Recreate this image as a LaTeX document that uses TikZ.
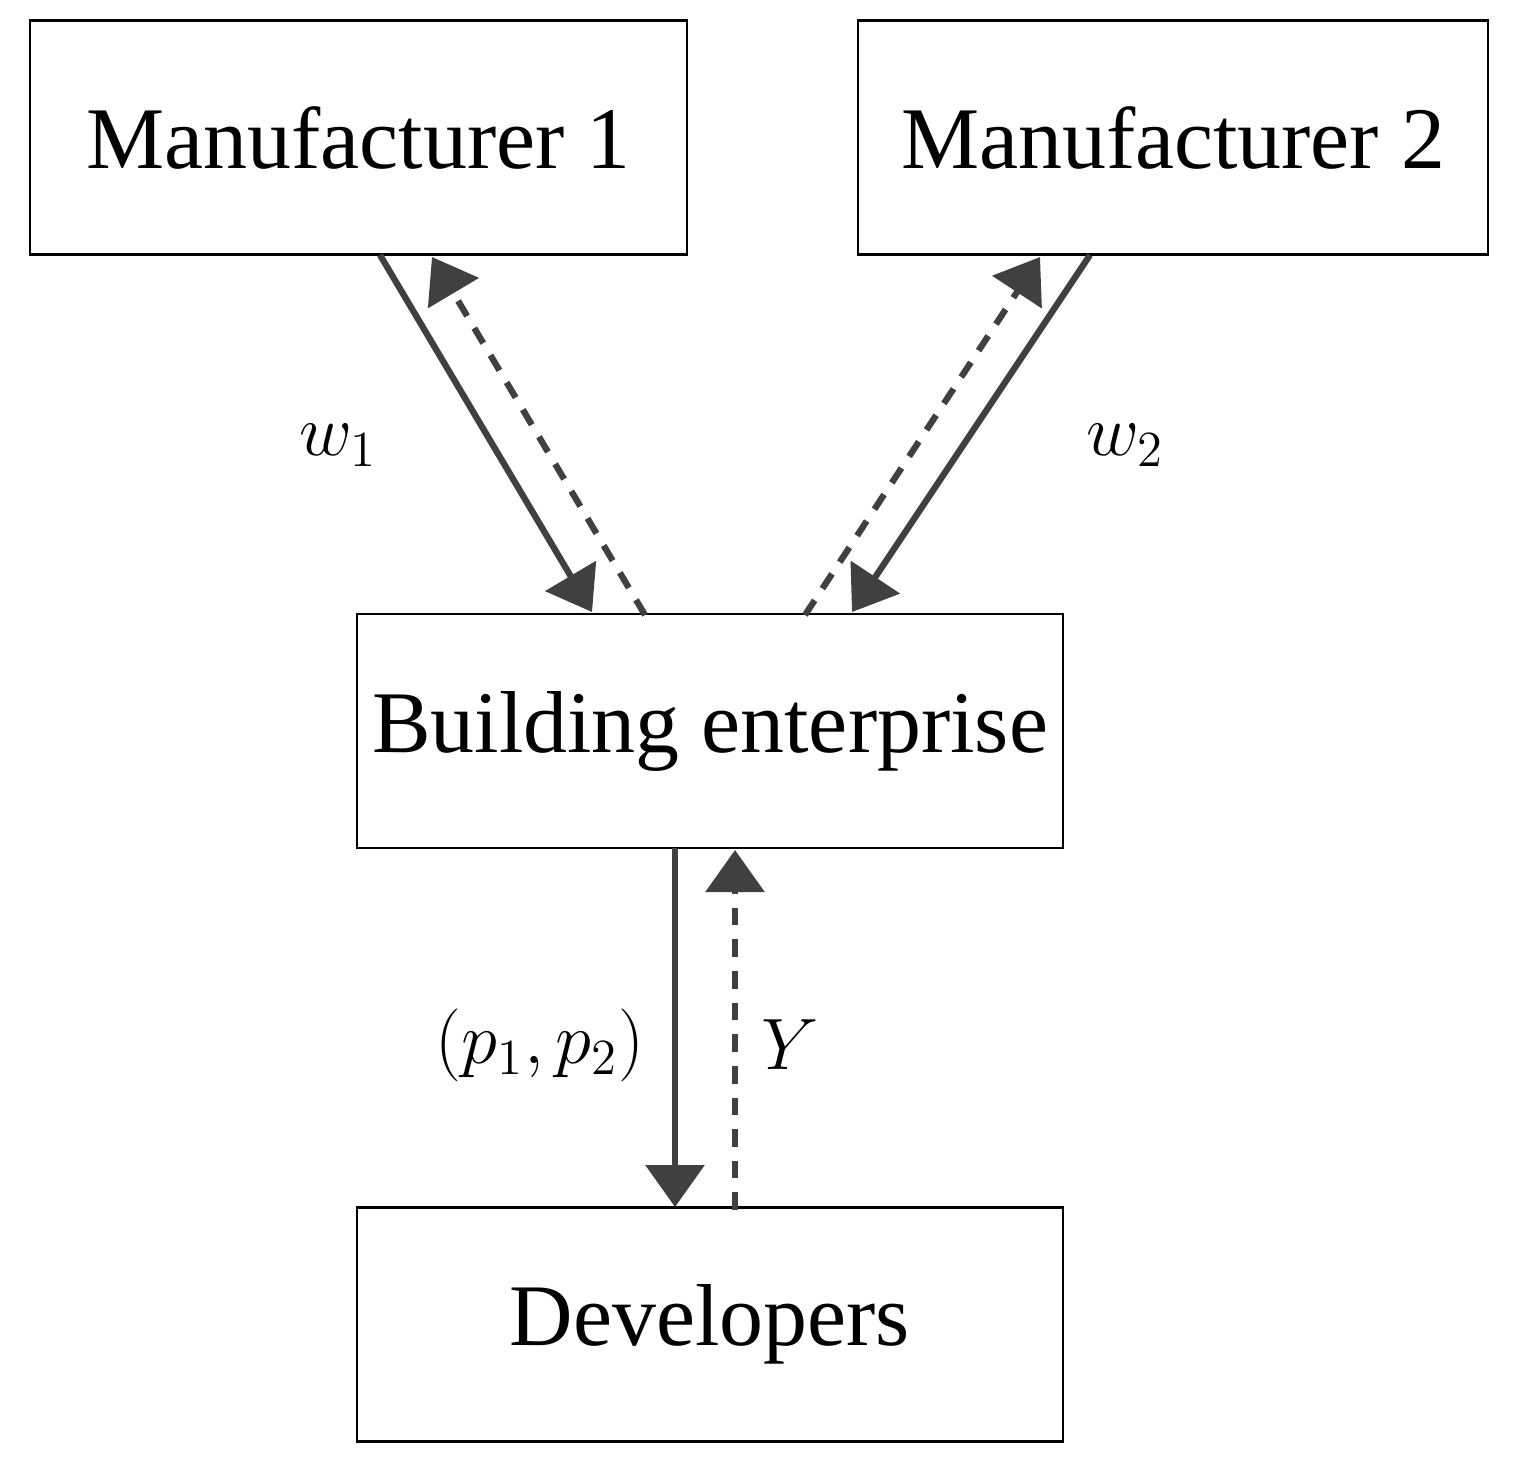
\documentclass[tikz,border=0pt]{standalone}
\usepackage{fontspec}
\setmainfont{Liberation Serif}
\usetikzlibrary{arrows.meta}
\definecolor{arrgray}{HTML}{404040}
\tikzset{
  box/.style={draw, line width=0.6pt, minimum height=2.34cm, inner sep=0pt, font=\fontsize{25}{30}\selectfont},
  flow/.style={arrgray, line width=1.8pt, -{Triangle[length=0.42cm,width=0.58cm]}},
  info/.style={flow, dash pattern=on 5pt off 4pt},
  lab/.style={font=\fontsize{20}{24}\selectfont}
}
\begin{document}
\begin{tikzpicture}
    \useasboundingbox (0,0) rectangle (15.13,-14.74);
    \node[box, minimum width=6.57cm] (m1) at (3.585,-1.375) {Manufacturer 1};
    \node[box, minimum width=6.30cm] (m2) at (11.73,-1.375) {Manufacturer 2};
    \node[box, minimum width=7.06cm] (be) at (7.10,-7.31) {Building enterprise};
    \node[box, minimum width=7.06cm] (dev) at (7.10,-13.245) {Developers};

    % connector ends
    \coordinate (a1) at (3.80,-2.55);
    \coordinate (a2) at (5.92,-6.12);
    \coordinate (b1) at (6.45,-6.15);
    \coordinate (b2) at (4.32,-2.57);
    \coordinate (c1) at (10.90,-2.55);
    \coordinate (c2) at (8.52,-6.12);
    \coordinate (d1) at (8.05,-6.15);
    \coordinate (d2) at (10.40,-2.57);
    \coordinate (e1) at (6.75,-8.48);
    \coordinate (e2) at (6.75,-12.07);
    \coordinate (f1) at (7.35,-12.10);
    \coordinate (f2) at (7.35,-8.50);

    \draw[flow] (a1) -- (a2);
    \draw[info] (b1) -- (b2);
    \draw[flow] (c1) -- (c2);
    \draw[info] (d1) -- (d2);
    \draw[flow] (e1) -- (e2);
    \draw[info] (f1) -- (f2);

    \node[lab] (lw1) at (3.38,-4.45) {$w_1$};
    \node[lab] (lw2) at (11.25,-4.45) {$w_2$};
    \node[lab] (lp) at (5.40,-10.45) {$(p_1,p_2)$};
    \node[lab] (ly) at (7.90,-10.45) {$Y$};
\end{tikzpicture}
\end{document}
